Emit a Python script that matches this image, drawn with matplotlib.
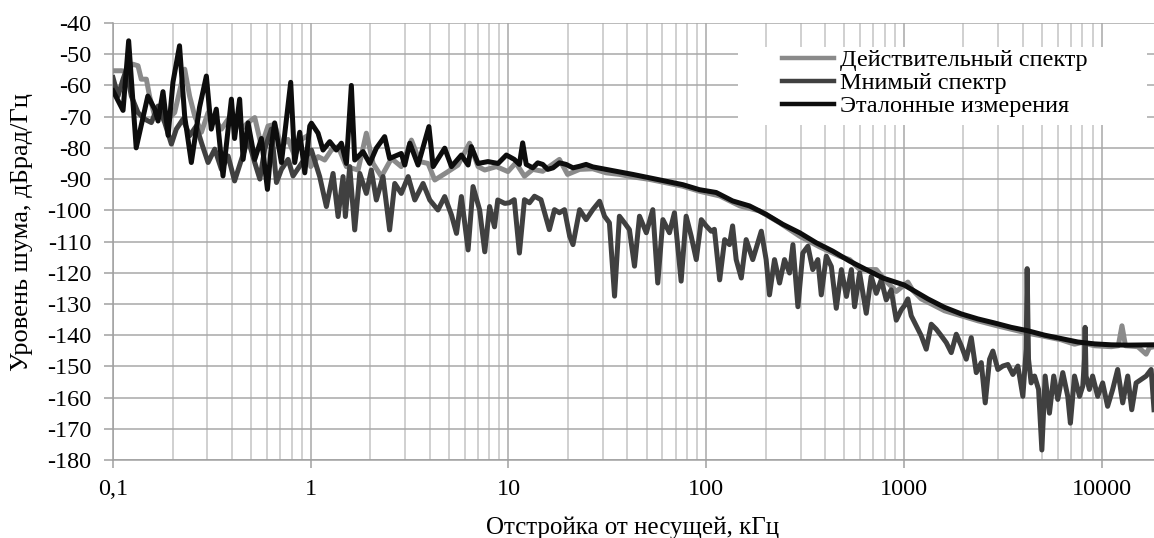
import matplotlib
matplotlib.use("Agg")
import matplotlib.pyplot as plt
from matplotlib.patches import Rectangle
from matplotlib.ticker import FixedLocator, NullFormatter, LogLocator

# ---------------- data (kHz, dBrad/Hz) ----------------
ref_f = [0.100, 0.1124, 0.120, 0.131, 0.150, 0.1625, 0.169, 0.179, 0.190, 0.201,
         0.217, 0.2305, 0.249, 0.274, 0.2966, 0.314, 0.333, 0.360, 0.397, 0.412,
         0.437, 0.455, 0.482, 0.521, 0.563, 0.604, 0.632, 0.657, 0.711, 0.792,
         0.830, 0.880, 0.933, 0.989,
         1.008, 1.089, 1.154, 1.248, 1.348, 1.429, 1.515, 1.605, 1.669, 1.839,
         1.988, 2.147, 2.365, 2.506, 2.87, 2.99, 3.17, 3.49, 3.96, 4.16,
         4.76, 5.15, 5.78, 6.25, 6.49, 7.02, 7.88, 8.86, 9.76,
         10.7, 11.36, 11.8, 12.3, 13.28, 14.06, 14.9, 15.8, 16.8, 18.1,
         19.56, 21.2, 22.9, 24.7, 26.7, 30, 35, 42.5, 51.7, 62.8, 76.2, 92.5,
         112.3, 136, 165.6, 201, 244, 297, 360, 437, 532, 645, 783,
         1000, 1323, 1605, 1950, 2367, 2872, 3487, 4237, 5140, 6245, 7580,
         9210, 11180, 13580, 18400]
ref_db = [-61.7, -68, -45.7, -80, -63.4, -67.6, -71.4, -62, -76, -59,
          -47.3, -70, -84.7, -67, -57, -74, -67.6, -89, -64.4, -77,
          -64.4, -83.7, -72, -83.7, -77, -93.3, -79.4, -72, -84.7, -59,
          -84.7, -75, -88, -73,
          -72.1, -75.3, -80.7, -78, -80.7, -78.5, -85, -60, -83.9, -81.2,
          -85, -80.1, -76.4, -83.4, -81.8, -85.5, -78.5, -85.5, -73.2, -86,
          -80.1, -86, -82.3, -85.5, -79.6, -85, -84.4, -85, -82.3,
          -83.7, -85.3, -78.4, -85.3, -86.4, -84.8, -85.3, -86.9, -86.4, -84.8,
          -85.3, -86.4, -85.9, -85.3, -86.1, -86.7, -87.5, -88.5, -89.6, -90.7, -91.8, -93.4,
          -94.3, -97, -98.6, -101.3, -104.5, -107.2, -110.4, -113.1, -116.3, -119, -121.7,
          -123.9, -128.4, -131.1, -133.2, -134.8, -136.1, -137.5, -138.6, -140, -141.1, -142.2,
          -142.8, -143.1, -143.2, -143.1]

real_f = [0.100, 0.1102, 0.1168, 0.126, 0.1338, 0.139, 0.1475, 0.153, 0.1625, 0.1757,
          0.190, 0.205, 0.2305, 0.244, 0.259, 0.280, 0.3025, 0.327, 0.3535, 0.382,
          0.412, 0.4465, 0.482, 0.521, 0.563, 0.608, 0.657, 0.711, 0.768, 0.830,
          0.897, 0.970,
          1.0, 1.089, 1.177, 1.272, 1.375, 1.515, 1.736, 1.911, 2.067, 2.277,
          2.56, 2.87, 3.23, 3.56, 3.92, 4.24, 4.95, 5.56, 6.36, 7.02, 7.59, 8.69, 9.94,
          10.9, 12.05, 13.28, 14.9, 18.1, 19.9, 22.9, 26.7, 31.2, 36.4, 42.5,
          51.7, 62.8, 76.2, 92.5,
          117, 148, 186, 235, 297, 374, 472, 532, 598, 725, 814, 915,
          1047, 1110, 1224, 1375, 1605, 1950, 2367, 2872, 3487, 4237, 5140,
          6245, 7290, 7880, 9210, 11180, 12140, 12670, 13200, 15240, 16790, 17450, 18400]
real_db = [-55.3, -55.3, -55.5, -53.2, -53.7, -58, -58, -63.4, -69.8, -67.6,
           -70.8, -68.7, -54.8, -63.4, -69.8, -75, -68.7, -70.8, -74, -70.8,
           -69.8, -74, -71.9, -70.3, -79.4, -73, -72.5, -79.4, -77.3, -82.6,
           -77.3, -76,
           -86, -82.8, -83.9, -80.7, -79.6, -86, -87.1, -75.3, -85, -89.2,
           -83.4, -86, -77.5, -84.4, -85, -90.3, -87.6, -85.5, -78.5, -86, -87.1, -86, -87.6,
           -84.8, -89.1, -86.9, -87.5, -83.7, -88.5, -86.9, -86.7, -88, -88.5, -89.3,
           -90.1, -91.2, -92.3, -93.9,
           -95.4, -98.6, -100.2, -104, -108.3, -111.7, -114.7, -115.8, -119, -119, -122.8, -126,
           -123, -125.7, -128.4, -130, -132.2, -133.8, -135.4, -136.8, -138.1, -139.4, -140.4,
           -141.5, -142.9, -142.4, -143.4, -143.7, -143.4, -137, -143.4, -143.7, -146.1, -144, -143.7]

imag_f = [0.100, 0.106, 0.1124, 0.1168, 0.1238, 0.1338, 0.1446, 0.1563, 0.169, 0.1826,
          0.1974, 0.209, 0.226, 0.244, 0.264, 0.280, 0.3025, 0.327, 0.3535, 0.382,
          0.412, 0.4465, 0.482, 0.521, 0.553, 0.585, 0.632, 0.671, 0.711, 0.768,
          0.814, 0.880, 0.952,
          1.008, 1.11, 1.2, 1.297, 1.375, 1.457, 1.497, 1.575, 1.669, 1.77,
          1.911, 2.025, 2.147, 2.32, 2.506, 2.66, 2.87, 3.11, 3.36, 3.70,
          4.0, 4.4, 4.76, 5.15, 5.46, 5.78, 6.25, 6.62, 7.15, 7.59,
          8.03, 8.5, 8.83, 9.58,
          10.1, 10.7, 11.36, 12.05, 12.77, 13.54, 14.6, 16.1, 17.1, 18.1,
          19.2, 20.4, 21.2, 22.9, 24.7, 26.7, 28.9, 30.6, 32.4, 34.4,
          36.4, 38.6, 40.9, 43.4, 46, 49.8, 53.7, 56.9, 60.4, 65.2,
          69.1, 74.7, 79.2, 84, 89.1, 94.5,
          100, 106, 110, 117, 124, 131.2, 136, 141.8, 150.5, 159.3,
          172, 190, 201, 209, 221.6, 235, 249, 264, 274.6, 291,
          308, 327, 346, 367, 382, 405, 429.5, 455, 483, 512,
          542.5, 563, 597, 645, 683, 725, 768, 814, 862, 915, 970,
          1008, 1047, 1089, 1154, 1224, 1297, 1375, 1457, 1545, 1638,
          1736, 1840, 1950, 2067, 2191, 2323, 2462, 2578, 2712, 2818,
          2987, 3166, 3356, 3557, 3770, 3996, 4153, 4200, 4267, 4400,
          4580, 4798, 4985, 5180, 5445, 5725, 6000, 6360, 6740, 6950,
          7290, 7730, 8030, 8190, 8250, 8340, 8670, 9000, 9550, 10120,
          10720, 11370, 12050, 12780, 13550, 14200, 14940, 15840, 16790, 17800, 18400]
imag_db = [-57.5, -63.4, -58, -55, -63.4, -68.7, -70.8, -71.9, -66.6, -71.9,
           -78.8, -74, -70.8, -76.1, -73, -78.3, -84.7, -80.4, -86.9, -82.6,
           -90.6, -83.7, -77.3, -84.7, -90, -80.4, -74, -91.1, -86.9, -83.7,
           -89, -85.8, -82.6,
           -80.7, -89.2, -98.8, -88.2, -102, -89.2, -102, -86, -106.3, -88.2,
           -94.6, -87.1, -96.7, -89.2, -106.3, -91.4, -94.6, -89.2, -96.7, -91.4,
           -96.7, -99.9, -95.6, -101.5, -107.4, -95.6, -112.7, -92.4, -99.9, -113.3,
           -98.8, -105.3, -96.7, -97.8,
           -97.6, -96.6, -113.7, -96.6, -97.6, -95.5, -96.6, -106.2, -99.8, -100.8,
           -99.8, -108.3, -111, -99.8, -103, -99.8, -97.1, -101.9, -104, -127.5,
           -101.9, -104, -106.2, -117.9, -101.9, -107.2, -99.8, -123.3, -103, -107.2,
           -100.8, -122.7, -101.9, -108.3, -115.8, -103,
           -105, -106.7, -106.1, -122.3, -109.4, -111, -105, -115.8, -121.7, -109.4,
           -115.8, -106.7, -115.8, -127.1, -115.8, -123.3, -115.8, -120.1, -111, -130.9,
           -113.7, -111.5, -119, -115.8, -127.1, -114.7, -118, -131.4, -119, -127.6,
           -119, -130.9, -120.1, -133, -121.2, -126.6, -122.3, -128.7, -125.5, -135.2, -131.9,
           -130.5, -128.4, -133.8, -137, -140.2, -144.5, -136.5, -138.1, -140.2, -142.4,
           -145.6, -139.7, -143.4, -147.7, -140.8, -152, -148.8, -161.7, -147.7, -145.1,
           -151, -149.9, -149.4, -152.6, -149.9, -159.6, -144.5, -118.7, -147.7, -155.3,
           -153.1, -157.4, -176.8, -153.1, -165, -153.1, -160.6, -152, -159.6, -168.2,
           -153.1, -159.6, -156.3, -147.7, -137.5, -153.1, -157.4, -153.1, -159.6, -155.3,
           -162.8, -157.4, -151, -161.7, -153.1, -163.9, -155.3, -154.2, -153.1, -151, -163.9]

series_names = ["Действительный спектр", "Мнимый спектр", "Эталонные измерения"]
x_ticks = [0.1, 1, 10, 100, 1000, 10000]
x_tick_labels = ["0,1", "1", "10", "100", "1000", "10000"]
y_ticks = list(range(-180, -39, 10))
x_label = "Отстройка от несущей, кГц"
y_label = "Уровень шума, дБрад/Гц"

# ---------------- figure ----------------
plt.rcParams['font.family'] = ['Liberation Serif', 'DejaVu Serif']
W, H = 1154, 538
fig = plt.figure(figsize=(W / 100, H / 100), dpi=100)
ax = fig.add_axes([113 / W, 1 - 460 / H, (W - 113) / W, (460 - 23) / H])

colors = ["#8a8a8a", "#404040", "#0d0d0d"]
lw = 3.6
ax.plot(real_f, real_db, color=colors[0], lw=lw, label=series_names[0], zorder=3,
        solid_joinstyle='round')
ax.plot(imag_f, imag_db, color=colors[1], lw=lw, label=series_names[1], zorder=4,
        solid_joinstyle='round')
ax.plot(ref_f, ref_db, color=colors[2], lw=lw, label=series_names[2], zorder=5,
        solid_joinstyle='round')

ax.set_xscale('log')
ax.set_xlim(0.1, 18400)
ax.set_ylim(-180, -40)

ax.xaxis.set_major_locator(FixedLocator(x_ticks))
ax.set_xticklabels(x_tick_labels)
ax.xaxis.set_minor_locator(LogLocator(base=10, subs=range(2, 10), numticks=20))
ax.xaxis.set_minor_formatter(NullFormatter())
ax.set_yticks(y_ticks)
ax.set_yticklabels([str(v) for v in y_ticks])

ax.set_axisbelow(True)
ax.grid(True, which='major', axis='both', color='#a8a8a8', lw=1.1)
ax.grid(True, which='minor', axis='x', color='#c4c4c4', lw=1.1)

for s in ['top', 'right']:
    ax.spines[s].set_visible(False)
for s in ['left', 'bottom']:
    ax.spines[s].set_color('#a0a0a0')
    ax.spines[s].set_linewidth(1.1)

ax.tick_params(axis='y', which='major', direction='out', length=6.5, width=1.1,
               color='#a0a0a0', labelsize=17.5, pad=9)
ax.tick_params(axis='x', which='major', direction='out', length=6, width=1.1,
               color='#a0a0a0', labelsize=17.5, pad=8)
ax.tick_params(axis='x', which='minor', length=0)

fig.text(633 / W, 1 - 534 / H, x_label, fontsize=18, ha='center', va='baseline')
fig.text(22 / W, 1 - 232 / H, y_label, fontsize=19, ha='center', va='center',
         rotation=90)

# white legend background box
ax.add_patch(Rectangle((0.6004, 0.7666), 0.3929, 0.1784, transform=ax.transAxes,
                       facecolor='white', edgecolor='none', zorder=1.5))
leg = ax.legend(loc='upper left', bbox_to_anchor=(782 / W, 1 - 49 / H),
                bbox_transform=fig.transFigure, frameon=False, fontsize=17.5,
                handlelength=2.14, handletextpad=0.25, labelspacing=0.05,
                borderpad=0, borderaxespad=0)
for l in leg.get_lines():
    l.set_linewidth(3.2)

fig.savefig("out.png", dpi=100)
